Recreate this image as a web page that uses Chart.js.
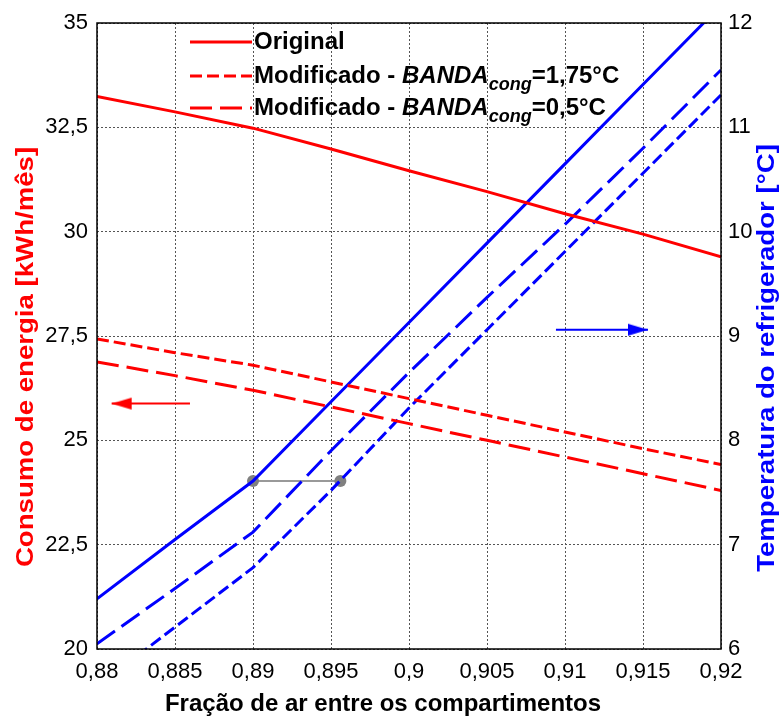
<!DOCTYPE html>
<html>
<head>
<meta charset="utf-8">
<script src="https://cdn.jsdelivr.net/npm/chart.js@4"></script>
<style>
  body { margin: 0; background: #fff; }
  #wrap { width: 783px; height: 724px; }
</style>
</head>
<body>
<div id="wrap"><canvas id="chart" width="783" height="724"></canvas></div>
<script>
// x values (fração de ar)
const fractions = [0.88, 0.885, 0.89, 0.895, 0.9, 0.905, 0.91, 0.915, 0.92];

// energia [kWh/mês] - eixo esquerdo
const energyOriginal = [33.24, 32.87, 32.48, 31.98, 31.46, 30.96, 30.43, 29.94, 29.40];
const energyBanda175 = [27.43, 27.10, 26.80, 26.40, 26.00, 25.60, 25.20, 24.80, 24.42];
const energyBanda05  = [26.88, 26.55, 26.20, 25.80, 25.40, 25.00, 24.60, 24.20, 23.80];

// temperatura do refrigerador [°C] - eixo direito
const tempOriginal = [6.48, 7.05, 7.61, 8.37, 9.13, 9.89, 10.65, 11.41, 12.17];
const tempBanda05  = [6.05, 6.58, 7.12, 7.90, 8.65, 9.37, 10.07, 10.80, 11.55];
const tempBanda175 = [5.64, 6.21, 6.78, 7.52, 8.31, 9.06, 9.81, 10.56, 11.31];

// marcador cinza (mesma temperatura)
const markerX = [0.89, 0.8956];
const markerTemp = [7.61, 7.61];

// setas indicando o eixo
const redArrowX = [0.88596, 0.88094];
const redArrowY = [25.88, 25.88];
const blueArrowX = [0.90942, 0.91532];
const blueArrowY = [9.06, 9.06];

const xTicks = [0.88, 0.885, 0.89, 0.895, 0.9, 0.905, 0.91, 0.915, 0.92];
const leftTicks = [20, 22.5, 25, 27.5, 30, 32.5, 35];
const rightTicks = [6, 7, 8, 9, 10, 11, 12];

const legendItems = [
    { name: 'Original', dash: [] },
    { name: 'Modificado - ', italic: 'BANDA', sub: 'cong', tail: '=1,75°C', dash: [12, 5] },
    { name: 'Modificado - ', italic: 'BANDA', sub: 'cong', tail: '=0,5°C', dash: [22, 8] }
];

const FONT = '"Liberation Sans", Arial, sans-serif';

const pts = (xs, ys) => xs.map((x, i) => ({ x: x, y: ys[i] }));
const comma = v => String(Number(v.toFixed(3))).replace('.', ',');

// narrow arrow head, tip at the centre of the image
function arrowHead(color, dir) {
    const c = document.createElement('canvas');
    c.width = 44; c.height = 14;
    const g = c.getContext('2d');
    g.fillStyle = color;
    g.beginPath();
    if (dir > 0) {
        g.moveTo(22, 7); g.lineTo(2, 1); g.lineTo(2, 13);
    } else {
        g.moveTo(22, 7); g.lineTo(42, 1); g.lineTo(42, 13);
    }
    g.closePath();
    g.fill();
    return c;
}

function lineSet(label, data, color, dash, axis) {
    return {
        label: label,
        data: data,
        yAxisID: axis,
        borderColor: color,
        backgroundColor: color,
        borderWidth: 3,
        borderDash: dash,
        pointRadius: 0,
        tension: 0,
        fill: false
    };
}

// vertical title, stretched a bit along the text like the original
function vTitle(ctx, text, x, y, color) {
    ctx.save();
    ctx.translate(x, y);
    ctx.rotate(-Math.PI / 2);
    ctx.scale(1.15, 1);
    ctx.fillStyle = color;
    ctx.fillText(text, 0, 0);
    ctx.restore();
}

const framePlugin = {
    id: 'frame',
    afterDatasetsDraw(chart) {
        const { ctx, chartArea: a } = chart;
        ctx.save();
        ctx.strokeStyle = '#000';
        ctx.lineWidth = 1.5;
        ctx.strokeRect(a.left, a.top, a.right - a.left, a.bottom - a.top);

        // legenda
        ctx.textBaseline = 'middle';
        const rows = [42, 76, 108];
        legendItems.forEach((it, i) => {
            const y = rows[i];
            ctx.strokeStyle = '#ff0000';
            ctx.lineWidth = 3;
            ctx.setLineDash(it.dash);
            ctx.beginPath();
            ctx.moveTo(190, y);
            ctx.lineTo(252, y);
            ctx.stroke();
            ctx.setLineDash([]);
            ctx.fillStyle = '#000';
            let x = 254;
            ctx.font = 'bold 24px ' + FONT;
            ctx.fillText(it.name, x, y);
            x += ctx.measureText(it.name).width;
            if (it.italic) {
                ctx.font = 'italic bold 24px ' + FONT;
                ctx.fillText(it.italic, x, y);
                x += ctx.measureText(it.italic).width;
                ctx.font = 'italic bold 18px ' + FONT;
                ctx.fillText(it.sub, x, y + 9);
                x += ctx.measureText(it.sub).width;
                ctx.font = 'bold 24px ' + FONT;
                ctx.fillText(it.tail, x, y);
            }
        });

        // títulos dos eixos
        ctx.font = 'bold 24px ' + FONT;
        ctx.textAlign = 'center';
        ctx.fillStyle = '#000';
        ctx.fillText('Fração de ar entre os compartimentos', 383, 704);
        vTitle(ctx, 'Consumo de energia [kWh/mês]', 26, 357, '#ff0000');
        vTitle(ctx, 'Temperatura do refrigerador [°C]', 767, 358, '#0000ff');
        ctx.restore();
    }
};

new Chart(document.getElementById('chart'), {
    type: 'line',
    data: {
        datasets: [
            lineSet('Original', pts(fractions, energyOriginal), '#ff0000', [], 'y'),
            lineSet('Banda 1,75', pts(fractions, energyBanda175), '#ff0000', [12, 5], 'y'),
            lineSet('Banda 0,5', pts(fractions, energyBanda05), '#ff0000', [22, 8], 'y'),
            lineSet('T Original', pts(fractions, tempOriginal), '#0000ff', [], 'y2'),
            lineSet('T Banda 0,5', pts(fractions, tempBanda05), '#0000ff', [22, 8], 'y2'),
            lineSet('T Banda 1,75', pts(fractions, tempBanda175), '#0000ff', [12, 5], 'y2'),
            {
                label: 'marcador',
                data: pts(markerX, markerTemp),
                yAxisID: 'y2',
                borderColor: '#999999',
                backgroundColor: '#808080',
                borderWidth: 2,
                pointRadius: 6,
                pointBorderWidth: 0,
                pointBackgroundColor: '#808080'
            },
            {
                label: 'seta esq',
                data: pts(redArrowX, redArrowY),
                yAxisID: 'y',
                borderColor: '#ff0000',
                borderWidth: 2,
                pointRadius: [0, 10],
                pointStyle: [false, arrowHead('#ff0000', -1)]
            },
            {
                label: 'seta dir',
                data: pts(blueArrowX, blueArrowY),
                yAxisID: 'y2',
                borderColor: '#0000ff',
                borderWidth: 2,
                pointRadius: [0, 10],
                pointStyle: [false, arrowHead('#0000ff', 1)]
            }
        ]
    },
    options: {
        responsive: false,
        animation: false,
        layout: { padding: { top: 23, left: 0, right: 0, bottom: 0 } },
        plugins: { legend: { display: false }, tooltip: { enabled: false } },
        scales: {
            x: {
                type: 'linear',
                min: 0.88,
                max: 0.92,
                afterFit: s => { s.height = 75; },
                afterBuildTicks: s => { s.ticks = xTicks.map(v => ({ value: v })); },
                grid: { color: '#555', lineWidth: 1, drawTicks: false },
                border: { display: false, dash: [2, 2] },
                ticks: {
                    padding: 10,
                    color: '#000',
                    font: { family: FONT, size: 22 },
                    maxRotation: 0,
                    callback: v => comma(v)
                }
            },
            y: {
                position: 'left',
                min: 20,
                max: 35,
                afterFit: s => { s.width = 97; },
                afterBuildTicks: s => { s.ticks = leftTicks.map(v => ({ value: v })); },
                grid: { color: '#555', lineWidth: 1, drawTicks: false },
                border: { display: false, dash: [2, 2] },
                ticks: {
                    padding: 9,
                    color: '#000',
                    font: { family: FONT, size: 22 },
                    callback: v => comma(v)
                }
            },
            y2: {
                position: 'right',
                min: 6,
                max: 12,
                afterFit: s => { s.width = 62; },
                afterBuildTicks: s => { s.ticks = rightTicks.map(v => ({ value: v })); },
                grid: { display: false, drawTicks: false },
                border: { display: false },
                ticks: {
                    padding: 7,
                    color: '#000',
                    font: { family: FONT, size: 22 },
                    callback: v => comma(v)
                }
            }
        }
    },
    plugins: [framePlugin]
});
</script>
</body>
</html>
